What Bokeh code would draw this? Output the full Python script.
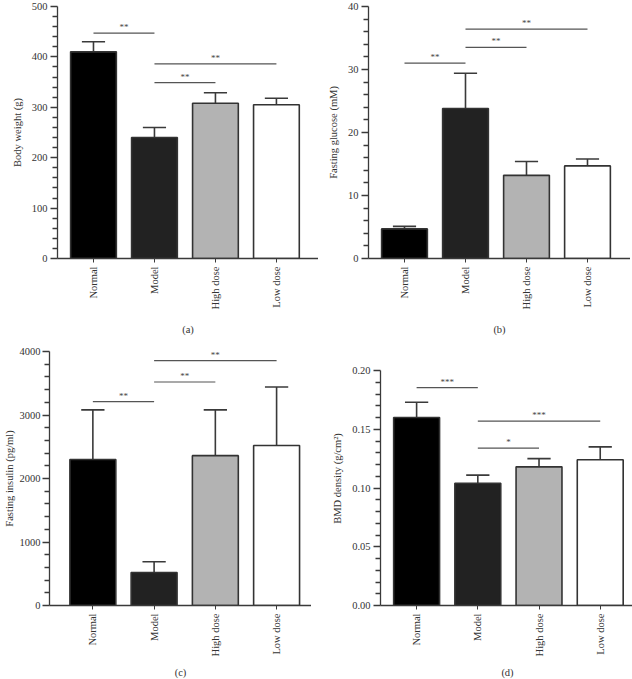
import numpy as np
from bokeh.plotting import figure
from bokeh.layouts import column, row
from bokeh.models import Range1d, FixedTicker, ColumnDataSource, NumeralTickFormatter
from bokeh.embed import file_html
from bokeh.resources import INLINE

# ---------------- data ----------------
groups = ["Normal", "Model", "High dose", "Low dose"]
bar_colors = ["#000000", "#222222", "#b3b3b3", "#ffffff"]

bw_mean = [410, 240, 308, 305]
bw_top = [430, 260, 329, 318]
bw_sig_from = [0, 1, 1]
bw_sig_to = [1, 2, 3]
bw_sig_level = [447, 349, 386]
bw_sig_text = ["**", "**", "**"]
bw_ticks = [0, 100, 200, 300, 400, 500]

glu_mean = [4.7, 23.8, 13.2, 14.7]
glu_top = [5.1, 29.4, 15.4, 15.8]
glu_sig_from = [0, 1, 1]
glu_sig_to = [1, 2, 3]
glu_sig_level = [31.0, 33.5, 36.4]
glu_sig_text = ["**", "**", "**"]
glu_ticks = [0, 10, 20, 30, 40]

ins_mean = [2300, 520, 2360, 2520]
ins_top = [3080, 690, 3080, 3440]
ins_sig_from = [0, 1, 1]
ins_sig_to = [1, 2, 3]
ins_sig_level = [3210, 3520, 3855]
ins_sig_text = ["**", "**", "**"]
ins_ticks = [0, 1000, 2000, 3000, 4000]

bmd_mean = [0.160, 0.104, 0.118, 0.124]
bmd_top = [0.173, 0.111, 0.125, 0.135]
bmd_sig_from = [0, 1, 1]
bmd_sig_to = [1, 2, 3]
bmd_sig_level = [0.1855, 0.134, 0.157]
bmd_sig_text = ["***", "*", "***"]
bmd_ticks = [0.0, 0.05, 0.10, 0.15, 0.20]

FONT = "Liberation Serif"
TXT = "#333333"
LINE = "#3a3a3a"
N_MINOR = 5


def panel(mean, top, sfrom, sto, slevel, stext, ymax, ticks, ylabel, plabel,
          fw, fh, xstart, xend, bl, bt, bb, ylab_standoff=6, tick_standoff=3,
          plab_standoff=8, fmt=None):
    p = figure(frame_width=fw, frame_height=fh, output_backend="svg", toolbar_location=None,
               x_range=Range1d(xstart, xend), y_range=Range1d(0, ymax),
               min_border_left=bl, min_border_right=0, min_border_top=bt,
               min_border_bottom=bb)
    p.outline_line_color = None
    p.xgrid.visible = False
    p.ygrid.visible = False
    x = list(range(len(groups)))
    src = ColumnDataSource(dict(x=x, top=mean, color=bar_colors, et=top))
    p.segment(x0="x", y0="top", x1="x", y1="et", source=src, line_color=LINE, line_width=1.6)
    p.segment(x0=[xi - 0.19 for xi in x], y0=top, x1=[xi + 0.19 for xi in x], y1=top,
              line_color=LINE, line_width=1.6)
    p.vbar(x="x", top="top", width=0.75, fill_color="color", line_color="#333333",
           line_width=1.6, source=src)
    # significance brackets
    p.segment(x0=sfrom, y0=slevel, x1=sto, y1=slevel, line_color="#555555", line_width=1.2)
    mids = [(a + b) / 2 for a, b in zip(sfrom, sto)]
    p.text(x=mids, y=slevel, text=stext, text_align="center", text_baseline="bottom",
           y_offset=-1, text_font_size="9px", text_color="#444444",
           text_font={"value": FONT})

    # minor ticks subdivide each major interval
    minors = []
    for a, b in zip(ticks[:-1], ticks[1:]):
        step = (b - a) / N_MINOR
        minors += [a + k * step for k in range(1, N_MINOR)]

    ya = p.yaxis[0]
    ya.ticker = FixedTicker(ticks=ticks, minor_ticks=minors)
    ya.bounds = (ticks[0], ticks[-1])
    ya.axis_label = ylabel
    ya.axis_label_text_font = FONT
    ya.axis_label_text_font_style = "normal"
    ya.axis_label_text_font_size = "10.5px"
    ya.axis_label_text_color = TXT
    ya.axis_label_standoff = ylab_standoff
    ya.major_label_text_font = FONT
    ya.major_label_text_font_size = "10.5px"
    ya.major_label_text_color = TXT
    ya.major_label_standoff = tick_standoff
    ya.major_tick_out = 7
    ya.major_tick_in = 0
    ya.minor_tick_out = 5
    ya.minor_tick_in = 0
    ya.axis_line_color = LINE
    ya.major_tick_line_color = LINE
    ya.minor_tick_line_color = LINE
    ya.major_tick_line_width = 1.3
    ya.minor_tick_line_width = 1.3
    ya.axis_line_width = 1.3
    if fmt is not None:
        ya.formatter = fmt

    xa = p.xaxis[0]
    xa.ticker = FixedTicker(ticks=x)
    xa.major_label_overrides = {i: g for i, g in enumerate(groups)}
    xa.major_label_orientation = np.pi / 2
    xa.major_label_text_font = FONT
    xa.major_label_text_font_size = "10.5px"
    xa.major_label_text_color = TXT
    xa.major_label_standoff = 4
    xa.major_tick_out = 4
    xa.major_tick_in = 0
    xa.minor_tick_line_color = None
    xa.axis_line_color = LINE
    xa.major_tick_line_color = LINE
    xa.axis_line_width = 1.3
    xa.axis_label = plabel
    xa.axis_label_text_font = FONT
    xa.axis_label_text_font_style = "normal"
    xa.axis_label_text_font_size = "10.5px"
    xa.axis_label_text_color = TXT
    xa.axis_label_standoff = plab_standoff
    return p


pa = panel(bw_mean, bw_top, bw_sig_from, bw_sig_to, bw_sig_level, bw_sig_text,
           500, bw_ticks, "Body weight (g)", "(a)",
           fw=261, fh=252, xstart=-0.59, xend=3.69, bl=57, bt=6, bb=80, plab_standoff=12)
pb = panel(glu_mean, glu_top, glu_sig_from, glu_sig_to, glu_sig_level, glu_sig_text,
           40, glu_ticks, "Fasting glucose (mM)", "(b)",
           fw=262, fh=252, xstart=-0.59, xend=3.705, bl=50, bt=6, bb=80, plab_standoff=12)
pc = panel(ins_mean, ins_top, ins_sig_from, ins_sig_to, ins_sig_level, ins_sig_text,
           4000, ins_ticks, "Fasting insulin (pg/ml)", "(c)",
           fw=262, fh=254, xstart=-0.708, xend=3.57, bl=45, bt=13, bb=72,
           ylab_standoff=2, tick_standoff=2)
pd = panel(bmd_mean, bmd_top, bmd_sig_from, bmd_sig_to, bmd_sig_level, bmd_sig_text,
           0.2162, bmd_ticks, "BMD density (g/cm²)", "(d)",
           fw=254, fh=254, xstart=-0.59, xend=3.56, bl=69, bt=13, bb=72,
           fmt=NumeralTickFormatter(format="0.00"))

layout = column(row(pa, pb), row(pc, pd))

with open("out.html", "w") as f:
    f.write(file_html(layout, INLINE))
